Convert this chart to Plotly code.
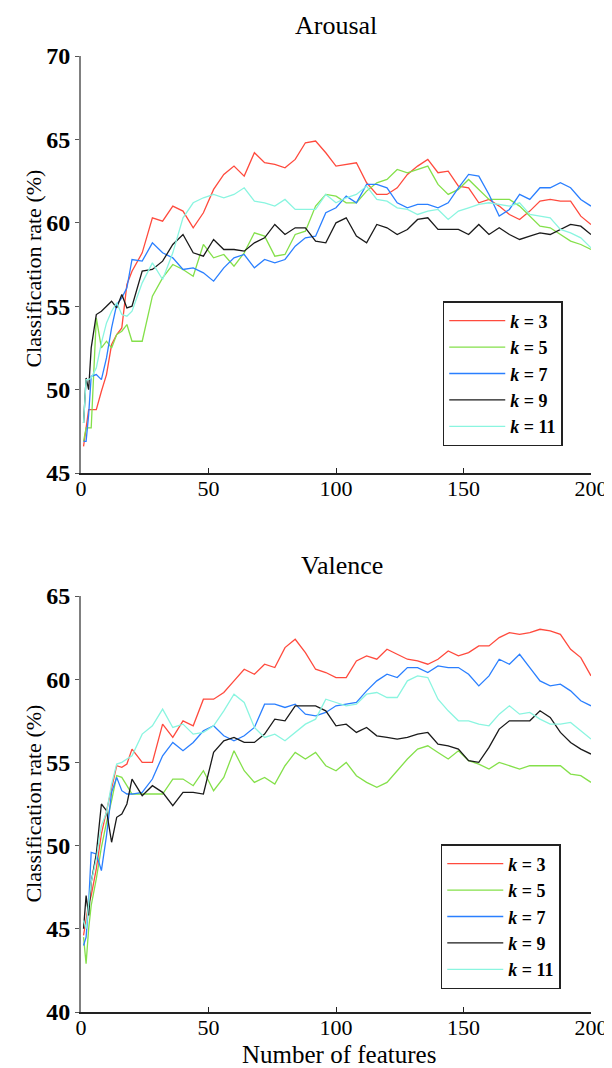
import plotly.graph_objects as go

# feature counts (x knots)
features = [1, 2, 3, 4, 6, 8, 10, 12, 14, 16, 18, 20] + list(range(24, 201, 4))

k_labels = ["3", "5", "7", "9", "11"]

# ---------------- Arousal ----------------
arousal_k3 = [46.6, 47.7, 48.8, 48.8, 48.8, 49.9, 50.9, 52.7, 53.3, 53.7, 56.3, 57.1,
              58.2, 60.3, 60.1, 61.0, 60.7, 59.7, 60.6, 62.0, 62.9, 63.4, 62.8, 64.2,
              63.6, 63.5, 63.3, 63.8, 64.8, 64.9, 64.2, 63.4, 63.5, 63.6, 62.4, 61.7,
              61.7, 62.1, 62.9, 63.4, 63.8, 63.0, 63.1, 62.2, 62.1, 61.2, 61.4, 61.0,
              60.5, 60.2, 60.7, 61.3, 61.4, 61.3, 61.3, 60.4, 59.9]
arousal_k5 = [46.9, 47.7, 47.7, 47.7, 54.3, 52.5, 52.9, 52.5, 53.3, 53.5, 53.9, 52.9,
              52.9, 55.6, 56.7, 57.5, 57.2, 56.8, 58.7, 57.9, 58.1, 57.4, 58.2, 59.4,
              59.2, 58.0, 58.1, 59.3, 59.5, 61.0, 61.7, 61.6, 61.2, 61.2, 61.9, 62.4,
              62.6, 63.2, 63.0, 63.2, 63.4, 62.3, 61.7, 62.0, 62.6, 62.0, 61.4, 61.4,
              61.4, 61.0, 60.4, 59.8, 59.7, 59.3, 58.9, 58.7, 58.4]
arousal_k7 = [46.9, 46.9, 48.5, 50.8, 50.9, 50.6, 51.9, 53.7, 55.1, 55.5, 56.1, 57.8,
              57.7, 58.8, 58.2, 57.9, 57.2, 57.3, 57.0, 56.5, 57.3, 57.9, 58.1, 57.3,
              57.8, 57.6, 57.8, 58.6, 59.1, 59.2, 60.6, 60.9, 61.6, 61.2, 62.3, 62.3,
              62.1, 61.2, 60.9, 61.1, 61.1, 60.9, 61.2, 62.1, 62.9, 62.8, 61.7, 60.4,
              60.8, 61.7, 61.4, 62.1, 62.1, 62.4, 62.1, 61.4, 61.0]
arousal_k9 = [48.0, 50.7, 50.0, 52.5, 54.5, 54.7, 55.0, 55.3, 54.9, 55.7, 54.9, 55.0,
              57.1, 57.2, 57.7, 58.7, 59.3, 58.2, 58.0, 59.0, 58.4, 58.4, 58.3, 58.8,
              59.1, 59.9, 59.3, 59.7, 59.7, 58.9, 58.8, 60.0, 60.3, 59.2, 58.8, 59.9,
              59.7, 59.3, 59.6, 60.2, 60.3, 59.6, 59.6, 59.6, 59.3, 59.9, 59.3, 59.7,
              59.3, 59.0, 59.2, 59.4, 59.3, 59.6, 59.9, 59.8, 59.3]
arousal_k11 = [48.0, 50.6, 50.6, 50.7, 51.3, 52.8, 54.0, 54.7, 55.2, 54.5, 54.4, 54.7,
               56.4, 57.6, 56.6, 58.2, 60.3, 61.2, 61.5, 61.7, 61.5, 61.7, 62.1, 61.3,
               61.2, 61.0, 61.4, 60.8, 60.8, 60.8, 61.7, 61.2, 61.5, 61.7, 62.2, 61.4,
               61.3, 60.9, 60.8, 60.5, 60.7, 60.8, 60.2, 60.7, 60.9, 61.1, 61.2, 61.1,
               61.0, 61.2, 60.5, 60.4, 60.3, 59.6, 59.4, 59.1, 58.5]

# ---------------- Valence ----------------
valence_k3 = [44.6, 45.5, 46.5, 47.0, 48.6, 50.7, 52.1, 53.3, 54.8, 54.7, 54.9, 55.8,
              55.0, 55.0, 57.3, 56.5, 57.5, 57.2, 58.8, 58.8, 59.2, 59.9, 60.6, 60.3,
              60.9, 60.7, 61.9, 62.4, 61.6, 60.6, 60.4, 60.1, 60.1, 61.1, 61.4, 61.2,
              61.8, 61.5, 61.2, 61.1, 60.9, 61.2, 61.7, 61.4, 61.6, 62.0, 62.0, 62.5,
              62.8, 62.7, 62.8, 63.0, 62.9, 62.7, 61.8, 61.3, 60.2]
valence_k5 = [44.5, 42.9, 45.0, 46.4, 48.0, 49.9, 51.4, 52.7, 54.2, 54.1, 53.6, 53.1,
              53.1, 53.1, 53.1, 54.0, 54.0, 53.6, 54.5, 53.3, 54.1, 55.7, 54.5, 53.8,
              54.1, 53.7, 54.8, 55.6, 55.2, 55.6, 54.8, 54.5, 55.0, 54.2, 53.8, 53.5,
              53.8, 54.5, 55.2, 55.8, 56.0, 55.6, 55.2, 55.7, 55.1, 54.9, 54.6, 55.0,
              54.8, 54.6, 54.8, 54.8, 54.8, 54.8, 54.3, 54.2, 53.8]
valence_k7 = [44.0, 44.5, 46.5, 49.6, 49.5, 48.5, 50.6, 53.2, 54.1, 53.3, 53.1, 53.1,
              53.2, 54.0, 55.4, 56.2, 55.7, 56.2, 56.9, 57.2, 56.6, 56.3, 56.6, 57.1,
              58.5, 58.5, 58.3, 58.5, 57.9, 57.8, 58.0, 58.4, 58.5, 58.6, 59.3, 59.9,
              60.3, 60.1, 60.7, 60.7, 60.4, 60.8, 60.7, 60.7, 60.3, 59.6, 60.2, 61.2,
              60.9, 61.5, 60.7, 59.9, 59.6, 59.7, 59.3, 58.7, 58.4]
valence_k9 = [45.0, 47.0, 45.8, 47.8, 49.5, 52.5, 52.1, 50.2, 51.7, 51.9, 52.5, 54.0,
              53.0, 53.6, 53.2, 52.4, 53.2, 53.2, 53.1, 55.6, 56.3, 56.5, 56.2, 56.2,
              56.7, 57.6, 57.5, 58.4, 58.4, 58.4, 58.1, 57.2, 57.3, 56.8, 57.1, 56.6,
              56.5, 56.4, 56.5, 56.7, 56.8, 56.1, 56.0, 55.8, 55.1, 55.0, 55.9, 57.0,
              57.5, 57.5, 57.5, 58.1, 57.7, 56.8, 56.2, 55.8, 55.5]
valence_k11 = [45.5, 45.0, 46.5, 47.8, 49.2, 51.2, 52.0, 53.7, 54.9, 55.0, 55.2, 55.4,
               56.7, 57.2, 58.2, 57.1, 57.3, 56.7, 56.8, 57.2, 58.1, 59.1, 58.6, 57.1,
               56.5, 56.7, 56.3, 56.8, 57.3, 57.6, 58.8, 58.6, 58.4, 58.5, 59.1, 59.2,
               58.9, 58.9, 59.9, 60.2, 60.1, 58.8, 58.1, 57.5, 57.5, 57.3, 57.2, 57.9,
               58.4, 57.9, 58.0, 57.6, 57.3, 57.3, 57.4, 56.9, 56.4]

x_ticks = [0, 50, 100, 150, 200]
arousal_y_ticks = [45, 50, 55, 60, 65, 70]
valence_y_ticks = [40, 45, 50, 55, 60, 65]

colors = ["#FF4A3D", "#84E04A", "#2A7FFF", "#1A1A1A", "#8AF5E0"]

SERIF = "Liberation Serif"
W, H = 612, 1068
ML, MR, MT, MB = 73, 23, 48, 64
PH = H - MT - MB


def py(p):
    """pixel y -> paper fraction"""
    return (H - MB - p) / PH


def px(p):
    return (p - ML) / (W - ML - MR)


fig = go.Figure()

arousal = [arousal_k3, arousal_k5, arousal_k7, arousal_k9, arousal_k11]
valence = [valence_k3, valence_k5, valence_k7, valence_k9, valence_k11]

for i, (k, c) in enumerate(zip(k_labels, colors)):
    fig.add_trace(go.Scatter(
        x=features, y=arousal[i], mode="lines", name=f"<b><i>k</i> = {k}</b>",
        line=dict(color=c, width=1.3), xaxis="x", yaxis="y", legend="legend"))
for i, (k, c) in enumerate(zip(k_labels, colors)):
    fig.add_trace(go.Scatter(
        x=features, y=valence[i], mode="lines", name=f"<b><i>k</i> = {k}</b>",
        line=dict(color=c, width=1.3), xaxis="x2", yaxis="y2", legend="legend2"))

xcommon = dict(range=[0, 200], tickvals=x_ticks, ticks="inside", ticklen=5,
               tickcolor="#222", showline=True, linecolor="#222", linewidth=1.5,
               showgrid=False, zeroline=False, mirror=False, ticklabelstandoff=-5,
               tickfont=dict(family=SERIF, size=22, color="black"))
ycommon = dict(ticks="outside", ticklen=4, tickcolor="#555", showline=True,
               linecolor="#808080", linewidth=2, showgrid=False, zeroline=False,
               tickfont=dict(family=SERIF, size=24, color="black"))

legcommon = dict(bgcolor="white", bordercolor="#222", borderwidth=1.5,
                 font=dict(family=SERIF, size=18, color="black"),
                 xanchor="left", yanchor="top", tracegroupgap=0, itemwidth=56)

fig.update_layout(
    width=W, height=H,
    margin=dict(l=ML, r=MR, t=MT, b=MB),
    paper_bgcolor="white", plot_bgcolor="white",
    font=dict(family=SERIF, color="black"),
    xaxis=dict(domain=[0, 1], anchor="y", **xcommon),
    yaxis=dict(domain=[py(465), 1], anchor="x", range=[45, 70],
               tickvals=arousal_y_ticks,
               ticktext=[f"<b>{v}</b>" for v in arousal_y_ticks], **ycommon),
    xaxis2=dict(domain=[0, 1], anchor="y2", **xcommon),
    yaxis2=dict(domain=[0, py(588)], anchor="x2", range=[40, 65],
                tickvals=valence_y_ticks,
                ticktext=[f"<b>{v}</b>" for v in valence_y_ticks], **ycommon),
    legend=dict(x=px(439), y=py(293), **legcommon),
    legend2=dict(x=px(437), y=py(836), **legcommon),
    showlegend=True,
)

ann = [
    dict(text="Arousal", x=px(331), y=py(18), size=26, anchor="middle"),
    dict(text="Valence", x=px(337), y=py(557), size=26, anchor="middle"),
    dict(text="Number of features", x=px(334), y=py(1062), size=25, anchor="bottom"),
]
for a in ann:
    fig.add_annotation(text=a["text"], x=a["x"], y=a["y"], xref="paper", yref="paper",
                       xanchor="center", yanchor=a["anchor"], showarrow=False,
                       font=dict(family=SERIF, size=a["size"], color="black"))
for yc in (261, 796):
    fig.add_annotation(text="Classification rate (%)", x=px(24), y=py(yc),
                       xref="paper", yref="paper", xanchor="center", yanchor="middle",
                       textangle=-90, showarrow=False,
                       font=dict(family=SERIF, size=22, color="black"))

fig.write_html("out.html")
